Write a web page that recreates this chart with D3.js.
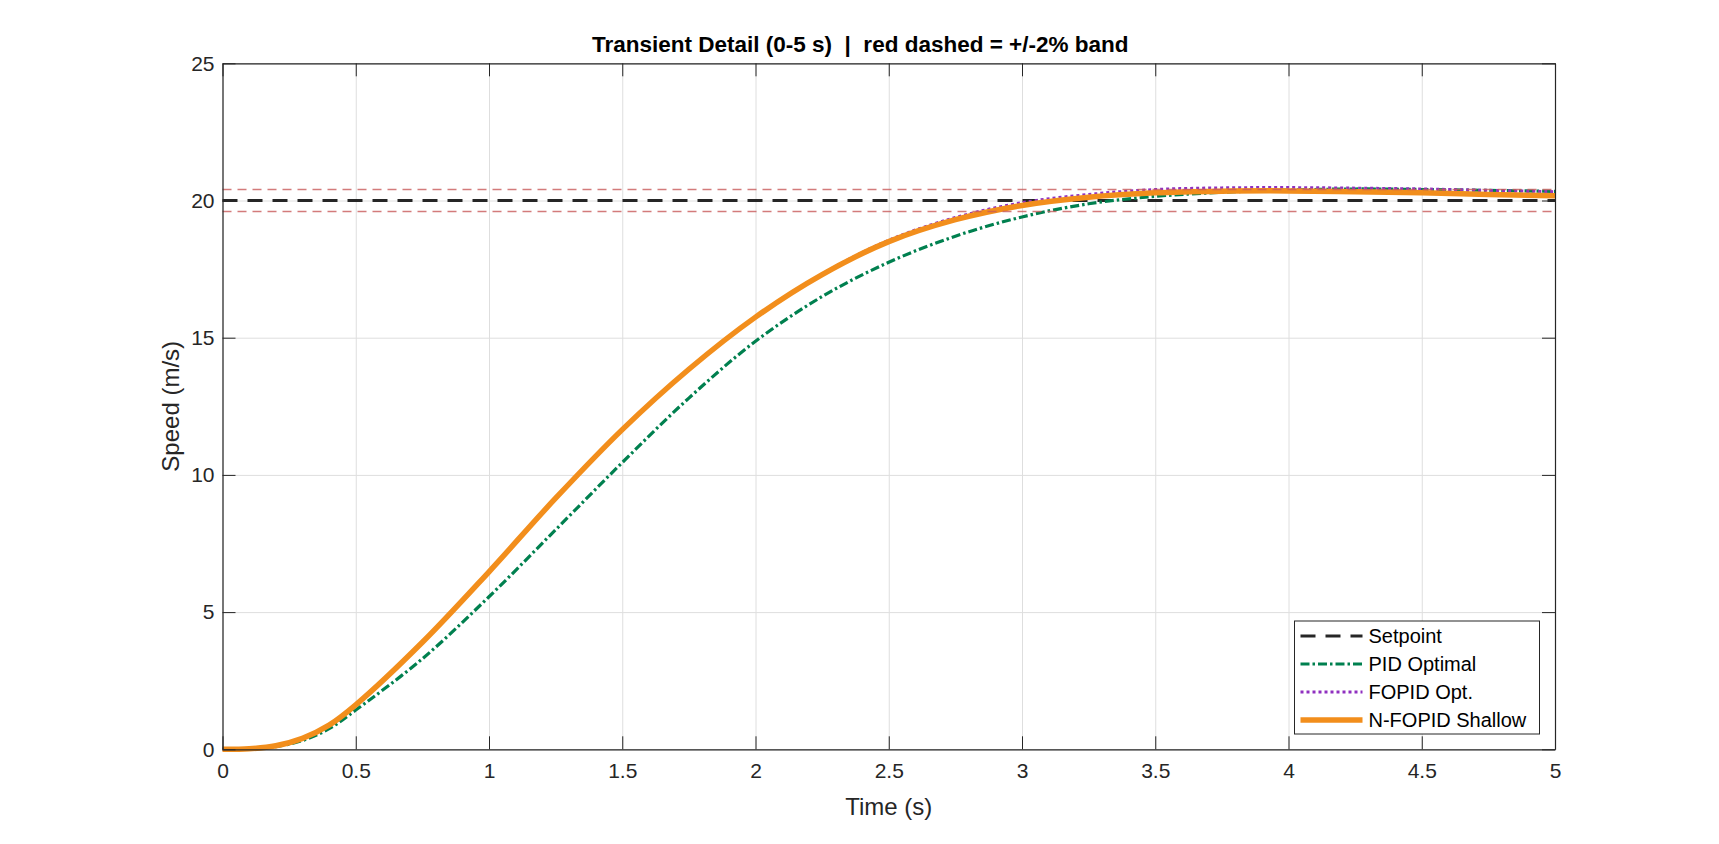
<!DOCTYPE html>
<html>
<head>
<meta charset="utf-8">
<script src="https://cdn.jsdelivr.net/npm/d3@7"></script>
<style>
  body { margin: 0; background: #fff; }
  svg { font-family: "Liberation Sans", Arial, Helvetica, sans-serif; }
  .axis path, .axis line { stroke: #262626; }
  .axis text { fill: #262626; font-size: 21px; }
  .grid line { stroke: #dedede; stroke-width: 1; }
  .grid path { display: none; }
</style>
</head>
<body>
<svg id="chart" width="1719" height="844"></svg>
<script>
// time samples (s)
var timeS = [0, 0.1, 0.2, 0.3, 0.4, 0.5, 0.75, 1, 1.25, 1.5, 1.75, 2, 2.25, 2.5, 2.75, 3, 3.25, 3.5, 3.75, 4, 4.25, 4.5, 4.75, 5];
// speed responses (m/s)
var pidOptimal = [0, 0.02, 0.1, 0.32, 0.75, 1.43, 3.3, 5.56, 8.0, 10.45, 12.8, 14.87, 16.5, 17.75, 18.7, 19.4, 19.88, 20.15, 20.3, 20.38, 20.42, 20.4, 20.37, 20.33];
var fopidOpt = [0, 0.02, 0.13, 0.4, 0.88, 1.62, 3.9, 6.47, 9.15, 11.65, 13.85, 15.75, 17.32, 18.55, 19.38, 19.92, 20.22, 20.4, 20.46, 20.47, 20.45, 20.42, 20.37, 20.32];
var nfopidShallow = [0, 0.02, 0.13, 0.4, 0.88, 1.62, 3.9, 6.47, 9.15, 11.65, 13.85, 15.75, 17.3, 18.5, 19.3, 19.82, 20.12, 20.28, 20.34, 20.35, 20.32, 20.28, 20.22, 20.17];
var setpoint = 20;
var bandPct = 0.02;

var xTicks = [0, 0.5, 1, 1.5, 2, 2.5, 3, 3.5, 4, 4.5, 5];
var yTicks = [0, 5, 10, 15, 20, 25];
var legendNames = ["Setpoint", "PID Optimal", "FOPID Opt.", "N-FOPID Shallow"];

var svg = d3.select("#chart");
var margin = {top: 63.3, right: 164, bottom: 94.7, left: 222.5};
var width = +svg.attr("width") - margin.left - margin.right;
var height = +svg.attr("height") - margin.top - margin.bottom;
var g = svg.append("g").attr("transform", "translate(" + margin.left + "," + margin.top + ")");

var x = d3.scaleLinear().domain([0, 5]).range([0, width]);
var y = d3.scaleLinear().domain([0, 25]).range([height, 0]);

// grid
g.append("g").attr("class", "grid")
    .attr("transform", "translate(0," + height + ")")
    .call(d3.axisBottom(x).tickValues(xTicks).tickSize(-height).tickFormat(""));
g.append("g").attr("class", "grid")
    .call(d3.axisLeft(y).tickValues(yTicks).tickSize(-width).tickFormat(""));

// styles for each series
var styles = [
    {color: "#262626", w: 3, dash: "15,10"},
    {color: "#00804f", w: 3.2, dash: "9,3,2.5,3"},
    {color: "#9030c0", w: 3, dash: "3,3"},
    {color: "#f28e1c", w: 5.5, dash: null}
];

var line = d3.line()
    .x(function(d) { return x(d[0]); })
    .y(function(d) { return y(d[1]); })
    .curve(d3.curveCatmullRom.alpha(0.5));

// setpoint
g.append("line")
    .attr("x1", x(0)).attr("x2", x(5))
    .attr("y1", y(setpoint)).attr("y2", y(setpoint))
    .attr("stroke", styles[0].color)
    .attr("stroke-width", styles[0].w)
    .attr("stroke-dasharray", styles[0].dash);

var series = [pidOptimal, fopidOpt, nfopidShallow];
series.forEach(function(vals, i) {
    var st = styles[i + 1];
    g.append("path")
        .datum(timeS.map(function(t, k) { return [t, vals[k]]; }))
        .attr("fill", "none")
        .attr("stroke", st.color)
        .attr("stroke-width", st.w)
        .attr("stroke-dasharray", st.dash)
        .attr("stroke-linejoin", "round")
        .attr("d", line);
});

// +/-2% band
[setpoint * (1 + bandPct), setpoint * (1 - bandPct)].forEach(function(v) {
    g.append("line")
        .attr("x1", x(0)).attr("x2", x(5))
        .attr("y1", y(v)).attr("y2", y(v))
        .attr("stroke", "#c85a5a")
        .attr("stroke-opacity", 0.8)
        .attr("stroke-width", 1.6)
        .attr("stroke-dasharray", "9,6");
});

// axes (ticks pointing inward, like matlab)
var tickLen = 13;
g.append("g").attr("class", "axis")
    .attr("transform", "translate(0," + height + ")")
    .call(d3.axisBottom(x).tickValues(xTicks).tickSizeInner(-tickLen).tickSizeOuter(0).tickPadding(14).tickFormat(d3.format("")));
g.append("g").attr("class", "axis")
    .call(d3.axisTop(x).tickValues(xTicks).tickSizeInner(-tickLen).tickSizeOuter(0).tickFormat(""));
g.append("g").attr("class", "axis")
    .call(d3.axisLeft(y).tickValues(yTicks).tickSizeInner(-tickLen).tickSizeOuter(0).tickPadding(8));
g.append("g").attr("class", "axis")
    .attr("transform", "translate(" + width + ",0)")
    .call(d3.axisRight(y).tickValues(yTicks).tickSizeInner(-tickLen).tickSizeOuter(0).tickFormat(""));
g.selectAll(".axis path").attr("stroke-width", 1.2);

// labels
g.append("text")
    .attr("x", width / 2).attr("y", height + 66)
    .attr("text-anchor", "middle")
    .attr("fill", "#262626")
    .style("font-size", "24px")
    .text("Time (s)");
g.append("text")
    .attr("transform", "translate(-44," + (height / 2) + ") rotate(-90)")
    .attr("text-anchor", "middle")
    .attr("fill", "#262626")
    .style("font-size", "24px")
    .text("Speed (m/s)");
g.append("text")
    .attr("x", 592 - margin.left).attr("y", -11)
    .attr("xml:space", "preserve")
    .attr("fill", "#000")
    .style("font-size", "22.5px")
    .style("font-weight", "bold")
    .text("Transient Detail (0-5 s)  |  red dashed = +/-2% band");

// legend
var lg = svg.append("g").attr("transform", "translate(1294.5,621)");
lg.append("rect")
    .attr("width", 245).attr("height", 113)
    .attr("fill", "#fff")
    .attr("stroke", "#262626")
    .attr("stroke-width", 1);
legendNames.forEach(function(name, i) {
    var st = styles[i];
    var yy = 15 + i * 28;
    lg.append("line")
        .attr("x1", 6).attr("x2", 68)
        .attr("y1", yy).attr("y2", yy)
        .attr("stroke", st.color)
        .attr("stroke-width", st.w)
        .attr("stroke-dasharray", st.dash);
    lg.append("text")
        .attr("x", 74).attr("y", yy + 7)
        .attr("fill", "#000")
        .style("font-size", "20px")
        .text(name);
});
</script>
</body>
</html>
